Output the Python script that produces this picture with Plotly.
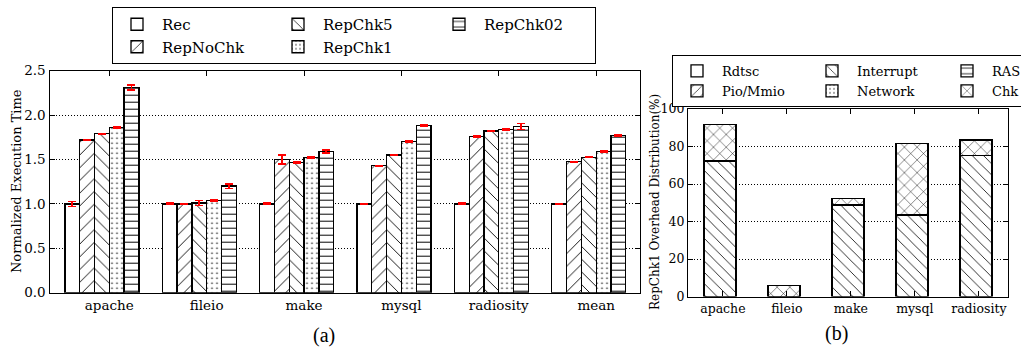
import plotly.graph_objects as go

W, H = 1021, 348
FONT = "DejaVu Serif, serif"

# ---------------- data: chart (a) ----------------
benchmarks = ["apache", "fileio", "make", "mysql", "radiosity", "mean"]
series_a = ["Rec", "RepNoChk", "RepChk5", "RepChk1", "RepChk02"]
rec = [1.00, 1.00, 1.00, 1.00, 1.00, 1.00]
rep_nochk = [1.72, 1.00, 1.50, 1.43, 1.76, 1.475]
rep_chk5 = [1.79, 1.01, 1.47, 1.55, 1.82, 1.525]
rep_chk1 = [1.86, 1.035, 1.525, 1.70, 1.84, 1.59]
rep_chk02 = [2.31, 1.20, 1.59, 1.885, 1.87, 1.77]
err_rec = [0.028, 0.008, 0.008, 0.004, 0.008, 0.004]
err_nochk = [0.005, 0.005, 0.05, 0.004, 0.005, 0.004]
err_chk5 = [0.005, 0.028, 0.008, 0.005, 0.006, 0.004]
err_chk1 = [0.006, 0.01, 0.01, 0.006, 0.008, 0.005]
err_chk02 = [0.028, 0.026, 0.015, 0.006, 0.034, 0.006]

# ---------------- data: chart (b) ----------------
apps = ["apache", "fileio", "make", "mysql", "radiosity"]
series_b = ["Rdtsc", "Pio/Mmio", "Interrupt", "Network", "RAS", "Chk"]
rdtsc = [0, 0, 0, 0, 0]
pio_mmio = [0, 0, 0, 0, 0]
interrupt = [72.3, 0, 48.8, 43.5, 75.3]
network = [0, 0, 0, 0, 0]
ras = [0, 0, 0, 0, 0]
chk = [19.5, 5.8, 3.6, 38.2, 8.2]

vals_a = [rec, rep_nochk, rep_chk5, rep_chk1, rep_chk02]
errs_a = [err_rec, err_nochk, err_chk5, err_chk1, err_chk02]
shapes_a = ["", "/", "\\", ".", "-"]
sizes_a = [8, 9, 9, 5, 7]
solid_a = [0.2, 0.1, 0.1, 0.08, 0.14]
groups_a = ["g1", "g1", "g2", "g2", "g3"]

vals_b = [rdtsc, pio_mmio, interrupt, network, ras, chk]
shapes_b = ["", "/", "\\", ".", "-", "x"]
sizes_b = [8, 8, 8, 5, 7, 9]
solid_b = [0.2, 0.1, 0.1, 0.08, 0.14, 0.1]
groups_b = ["h1", "h1", "h2", "h2", "h3", "h3"]

fig = go.Figure()

bw = 0.152
for j, name in enumerate(series_a):
    xs = [i + (j - 2.5) * bw for i in range(len(benchmarks))]
    fig.add_trace(go.Bar(
        x=xs, y=vals_a[j], width=bw, name=name,
        legend="legend", legendgroup=groups_a[j],
        marker=dict(color="white",
                    line=dict(color="black", width=1.3),
                    pattern=dict(shape=shapes_a[j], fgcolor="black", bgcolor="white",
                                 size=sizes_a[j], solidity=solid_a[j],
                                 fillmode="replace", fgopacity=1)),
        error_y=dict(type="data", array=errs_a[j], color="red", thickness=1.6, width=4),
        xaxis="x", yaxis="y",
    ))

for j, name in enumerate(series_b):
    fig.add_trace(go.Bar(
        x=list(range(len(apps))), y=vals_b[j], width=0.5, name=name,
        legend="legend2", legendgroup=groups_b[j],
        marker=dict(color="white",
                    line=dict(color="black", width=1.3),
                    pattern=dict(shape=shapes_b[j], fgcolor="black", bgcolor="white",
                                 size=sizes_b[j], solidity=solid_b[j],
                                 fillmode="replace", fgopacity=1)),
        xaxis="x2", yaxis="y2",
    ))

axis_common = dict(
    showline=True, linecolor="black", linewidth=1.2, mirror="allticks",
    ticks="inside", ticklen=5, tickcolor="black", zeroline=False,
    automargin=False,
)

fig.update_layout(
    width=W, height=H,
    margin=dict(l=0, r=0, t=0, b=0, pad=0, autoexpand=False),
    paper_bgcolor="white", plot_bgcolor="white",
    barmode="stack", showlegend=True,
    font=dict(family=FONT, color="black"),
    xaxis=dict(domain=[49.5 / W, 640 / W], range=[-0.614, 5.45],
               tickvals=list(range(len(benchmarks))), ticktext=benchmarks,
               tickfont=dict(family=FONT, size=13.5, color="black"),
               showgrid=False, anchor="y", **axis_common),
    yaxis=dict(domain=[1 - 292.7 / H, 1 - 70.7 / H], range=[0, 2.5], dtick=0.5,
               tickformat=".1f", showgrid=True, gridcolor="black", griddash="1px,2px",
               tickfont=dict(family=FONT, size=13.5, color="black"),
               gridwidth=1, anchor="x", **axis_common),
    xaxis2=dict(domain=[688 / W, 1008 / W], range=[-0.5, 4.5],
                tickvals=[i + 0.045 for i in range(len(apps))], ticktext=apps,
                tickfont=dict(family=FONT, size=12.5, color="black"),
                showgrid=False, anchor="y2", **axis_common),
    yaxis2=dict(domain=[1 - 296.5 / H, 1 - 109 / H], range=[0, 100], dtick=20,
                showgrid=True, gridcolor="black", griddash="1px,2px",
                tickfont=dict(family=FONT, size=12.5, color="black"),
                gridwidth=1, anchor="x2", **axis_common),
    legend=dict(x=112 / W, y=1 - 7 / H, xanchor="left", yanchor="top",
                orientation="h", traceorder="grouped",
                bordercolor="black", borderwidth=1, bgcolor="white",
                font=dict(family=FONT, size=15, color="black"),
                entrywidth=106, itemwidth=40),
    legend2=dict(x=672 / W, y=1 - 55 / H, xanchor="left", yanchor="top",
                 orientation="h", traceorder="grouped",
                 bordercolor="black", borderwidth=1, bgcolor="white",
                 font=dict(family=FONT, size=13, color="black"),
                 entrywidth=80, itemwidth=40),
    annotations=[
        dict(text="Normalized Execution Time", x=17 / W, y=1 - 181 / H,
             xref="paper", yref="paper", textangle=-90, showarrow=False,
             xanchor="center", yanchor="middle",
             font=dict(family=FONT, size=13, color="black")),
        dict(text="RepChk1 Overhead Distribution(%)", x=655 / W, y=1 - 202 / H,
             xref="paper", yref="paper", textangle=-90, showarrow=False,
             xanchor="center", yanchor="middle",
             font=dict(family=FONT, size=12, color="black")),
        dict(text="(a)", x=324 / W, y=1 - 335 / H, xref="paper", yref="paper",
             showarrow=False, xanchor="center", yanchor="middle",
             font=dict(family="Liberation Serif", size=20, color="black")),
        dict(text="(b)", x=836 / W, y=1 - 333 / H, xref="paper", yref="paper",
             showarrow=False, xanchor="center", yanchor="middle",
             font=dict(family="Liberation Serif", size=20, color="black")),
    ],
)

fig.write_html("out.html", config={"displayModeBar": False},
               post_script="document.body.style.margin='0px';document.body.style.overflow='hidden';")
